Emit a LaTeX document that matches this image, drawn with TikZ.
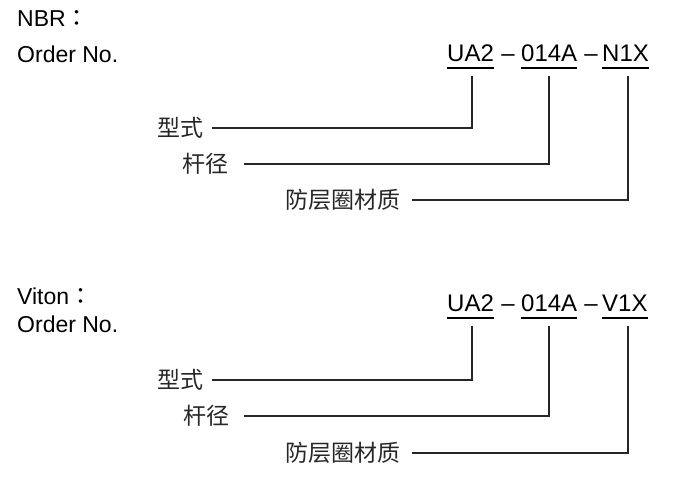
\documentclass[tikz,border=0pt]{standalone}
\usepackage{fontspec}
\setmainfont{Liberation Sans}
\newfontfamily\cjk{Noto Sans CJK SC}
\newfontfamily\cjktc{Noto Sans CJK TC}
\begin{document}
\begin{tikzpicture}[x=1pt,y=-1pt,
  lbl/.style={inner sep=0pt, font=\fontsize{23}{26}\selectfont, anchor=base west},
  code/.style={inner sep=0pt, font=\fontsize{24}{28}\selectfont, anchor=base west},
  dsh/.style={inner sep=0pt, font=\fontsize{24}{28}\selectfont, anchor=base},
  cn/.style={inner sep=0pt, font=\cjk\fontsize{23}{26}\selectfont, text=black!85, anchor=east},
  conn/.style={line width=1.4pt, draw=black!85},
  uline/.style={line width=1.3pt}]
\useasboundingbox (0,0) rectangle (673,486);

% ---------- NBR block ----------
\node[lbl] (h1) at (17,27) {NBR{\cjktc ：}};
\node[lbl] (o1) at (17,63) {Order No.};
\node[code] (a1) at (447,62) {UA2};
\node[dsh]  (d1) at (508,62) {–};
\node[code] (b1) at (521,62) {014A};
\node[dsh]  (d2) at (591,62) {–};
\node[code] (c1) at (602,62) {N1X};
\foreach \n in {a1,b1,c1}{
  \draw[uline] ([yshift=-6pt]\n.base west) -- ([yshift=-6pt]\n.base east);
}
\node[cn] (t1) at (204,128) {型式};
\node[cn] (t2) at (229,164) {杆径};
\node[cn] (t3) at (401,200) {防层圈材质};
\coordinate (v1) at (472,76);
\coordinate (v2) at (549,76);
\coordinate (v3) at (628,76);
\draw[conn] (v1) |- ([xshift=8pt]t1.east);
\draw[conn] (v2) |- ([xshift=15pt]t2.east);
\draw[conn] (v3) |- ([xshift=11pt]t3.east);

% ---------- Viton block ----------
\node[lbl] (h2) at (17,305) {Viton{\cjktc ：}};
\node[lbl] (o2) at (17,333) {Order No.};
\node[code] (a2) at (447,312) {UA2};
\node[dsh]  (d3) at (508,312) {–};
\node[code] (b2) at (521,312) {014A};
\node[dsh]  (d4) at (591,312) {–};
\node[code] (c2) at (602,312) {V1X};
\foreach \n in {a2,b2,c2}{
  \draw[uline] ([yshift=-6pt]\n.base west) -- ([yshift=-6pt]\n.base east);
}
\node[cn] (s1) at (204,380) {型式};
\node[cn] (s2) at (230,416) {杆径};
\node[cn] (s3) at (401,453) {防层圈材质};
\coordinate (w1) at (472,326);
\coordinate (w2) at (549,326);
\coordinate (w3) at (628,326);
\draw[conn] (w1) |- ([xshift=8pt]s1.east);
\draw[conn] (w2) |- ([xshift=14pt]s2.east);
\draw[conn] (w3) |- ([xshift=11pt]s3.east);
\end{tikzpicture}
\end{document}
